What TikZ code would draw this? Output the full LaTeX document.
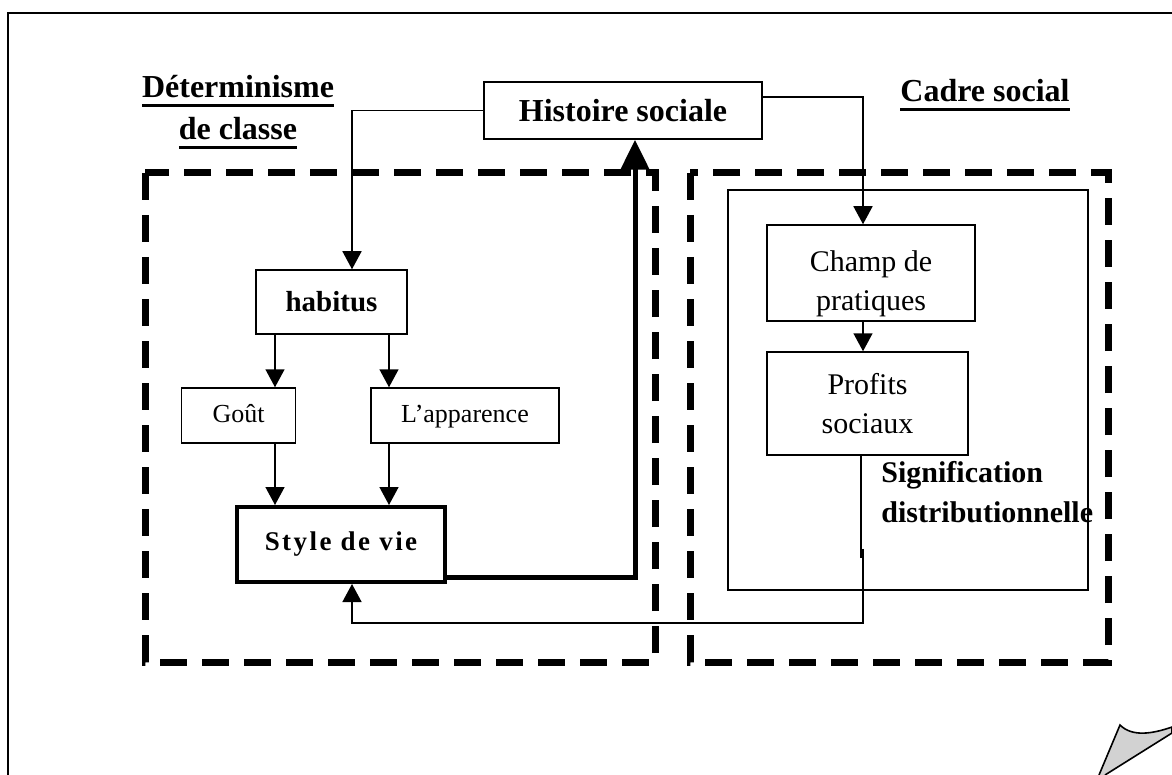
\documentclass[tikz,border=0pt]{standalone}
\usepackage{fontspec}
\setmainfont{Liberation Serif}
\usetikzlibrary{arrows.meta,positioning}

\newcommand{\ulhead}[1]{\setbox0=\hbox{#1}\rlap{\copy0}\rule[-4.5pt]{\wd0}{1.4pt}}
\newcommand{\dropby}[2]{\raisebox{-#1}[\height][\depth]{#2}}

\begin{document}
\begin{tikzpicture}[
  x=0.5pt, y=-0.5pt,
  box/.style={draw, line width=0.75pt, inner sep=0pt, align=center},
  arr/.style={-{Triangle[width=9.5pt,length=9pt]}, line width=0.75pt},
  thickarr/.style={-{Triangle[width=14pt,length=15pt]}, line width=2.5pt},
  dashbox/.style={draw, line width=3.5pt, dash pattern=on 13.5pt off 7.5pt},
  head/.style={font=\fontsize{16}{21}\selectfont\bfseries, align=center, inner sep=0pt},
  note/.style={align=center, font=\fontsize{15}{19.5}\selectfont},
  small/.style={font=\fontsize{13}{16}\selectfont, text height=9pt, text depth=2.5pt}
]
\useasboundingbox (0,0) rectangle (1172,775);

% page frame and folded corner
\draw[line width=1.3pt] (8,775) -- (8,13) -- (1172,13);
\filldraw[fill=gray!35, line width=0.8pt] (1099,775) -- (1120,725) .. controls (1132,737) and (1152,734) .. (1172,727) -- (1172,733) -- (1105,775);

% the two fields
\draw[dashbox] (145,173) rectangle (655,662);
\draw[dashbox] (690,173) rectangle (1108,662);
\draw[line width=0.75pt] (728,190) rectangle (1088,590);

\node[head] (det) at (238,112) {\ulhead{Déterminisme}\\\ulhead{de classe}};
\node[head] (cadre) at (985,95) {\ulhead{Cadre social}};

\node[box, minimum width=139pt, minimum height=28.5pt, font=\fontsize{16}{19}\selectfont\bfseries] (hist) at (623,110.5) {Histoire sociale};

\node[box, minimum width=75.5pt, minimum height=32pt, font=\fontsize{14.5}{17}\selectfont\bfseries] (hab) at (331.5,302) {habitus};
\node[box, small, minimum width=57pt, minimum height=27.5pt] (gout) at (238.5,415.5) {Goût};
\node[box, small, minimum width=94pt, minimum height=27.5pt] (app) at (465,415.5) {L’apparence};
\node[box, line width=2pt, minimum width=104pt, minimum height=37.5pt, font=\fontsize{13.5}{16}\selectfont\bfseries\addfontfeature{LetterSpace=9}] (style) at (341,544.5) {Style de vie};

\node[box, note, minimum width=104pt, minimum height=48pt] (champ) at (871,273) {\dropby{5pt}{\begin{tabular}{@{}c@{}}Champ de\\pratiques\end{tabular}}};
\node[box, note, minimum width=100.5pt, minimum height=51.5pt] (prof) at (867.5,403.5) {Profits\\sociaux};
\node[note, align=left, anchor=west, inner sep=0pt, font=\fontsize{15}{20}\selectfont\bfseries] (sig) at (881,492) {Signification\\distributionnelle};

% connectors
\draw[arr] (hist.west) -| ([xshift=10.25pt]hab.north);
\draw[arr] ([yshift=6.75pt]hist.east) -| ([xshift=-4pt]champ.north);
\draw[arr] ([xshift=-28.25pt]hab.south) -- ([xshift=18.25pt]gout.north);
\draw[arr] ([xshift=28.75pt]hab.south) -- ([xshift=-38pt]app.north);
\draw[arr] ([xshift=18.25pt]gout.south) -- ([xshift=-33pt]style.north);
\draw[arr] ([xshift=-38pt]app.south) -- ([xshift=24pt]style.north);
\draw[arr] ([xshift=-4pt]champ.south) -- ([xshift=-2.25pt]prof.south |- prof.north);
\draw[thickarr] ([yshift=-16.25pt]style.east) -| ([xshift=6pt]hist.south);
\draw[arr] ([xshift=-3.25pt]prof.south) -- ++(0,-51pt) ++(1pt,4.5pt) -- ++(0,-37pt) -| ([xshift=5.5pt]style.south);

\end{tikzpicture}
\end{document}
